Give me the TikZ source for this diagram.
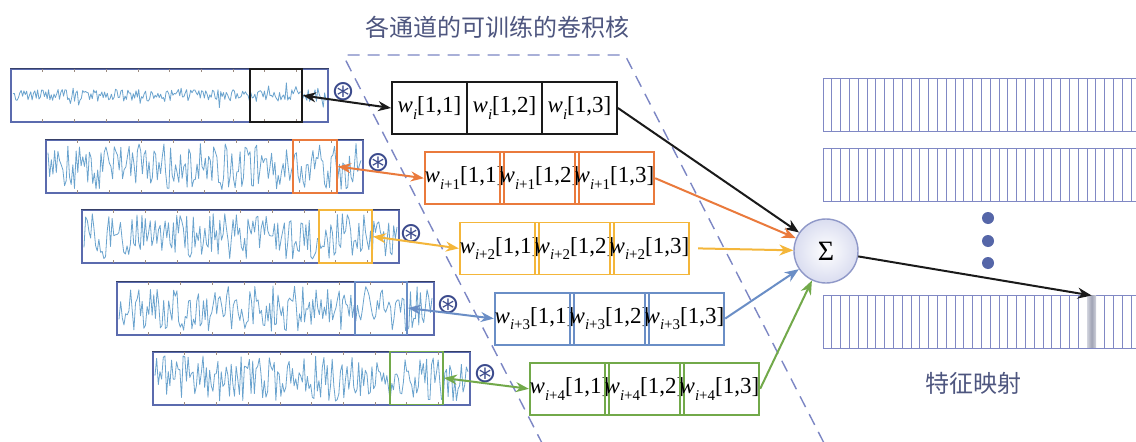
\documentclass[tikz,border=0pt]{standalone}
\usepackage{fontspec}
\setmainfont{Liberation Serif}
\newfontfamily\cjk{Noto Sans CJK SC}
\newfontfamily\symf{DejaVu Sans}
\usetikzlibrary{arrows.meta,shadings}
\definecolor{stripc}{HTML}{5B6BAE}
\definecolor{wavec}{HTML}{6AA3CE}
\definecolor{tickc}{HTML}{9A8A80}
\definecolor{convc}{HTML}{3B4A8C}
\definecolor{kblack}{HTML}{1A1A1A}
\definecolor{korange}{HTML}{EA7A3C}
\definecolor{kyellow}{HTML}{F4B63A}
\definecolor{kblue}{HTML}{6A8EC6}
\definecolor{kgreen}{HTML}{72A94A}
\definecolor{dashc}{HTML}{7C86C4}
\definecolor{fmc}{HTML}{8088C4}
\definecolor{txtc}{HTML}{4E567F}
\definecolor{dotc}{HTML}{5566A8}
\definecolor{sigc}{HTML}{8F98C8}
\definecolor{sigfill}{HTML}{DADDF0}
\definecolor{hlside}{HTML}{D0D2DC}
\definecolor{hlmid}{HTML}{A0A3B4}
\newcommand\kw[2]{\textit{w}\raisebox{-0.28em}{\fontsize{15}{15}\selectfont #1}[#2]}
\tikzset{
  wave/.style={draw=wavec, line width=0.8pt, line join=round},
  strip/.style={draw=stripc, line width=1.4pt, fill=white, minimum height=53pt, minimum width=317pt, inner sep=0pt},
  win/.style={draw=#1, line width=1.8pt, minimum height=53pt, inner sep=0pt},
  kcell/.style={draw=#1, line width=1.8pt, minimum width=75pt, minimum height=52pt, inner sep=0pt, font=\fontsize{23}{23}\selectfont},
  conv/.style={font=\symf\fontsize{28}{28}\selectfont, text=convc, inner sep=0pt},
  arr/.style={line width=2pt, draw=#1, -{Stealth[length=14pt,width=11pt]}},
  darr/.style={line width=2pt, draw=#1, {Stealth[length=13pt,width=10pt]}-{Stealth[length=13pt,width=10pt]}},
  fmline/.style={draw=fmc, line width=1pt},
  tick/.style={draw=tickc, line width=0.6pt},
  dashline/.style={draw=dashc, line width=1.4pt, dash pattern=on 12pt off 8pt, rounded corners=4pt},
  lbl/.style={text=txtc, font=\cjk\fontsize{24}{24}\selectfont, inner sep=0pt},
}
\begin{document}
\begin{tikzpicture}[x=1pt,y=-1pt]
\useasboundingbox (0,0) rectangle (1136,442);
\fill[white] (0,0) rectangle (1136,442);

% dashed parallelogram
\draw[dashline] (543,445) -- (343,55) -- (625,55) -- (825,445);

% title
\node[lbl] (title) at (497,27) {各通道的可训练的卷积核};

% signal strips
\pgfmathsetseed{11}
\foreach \n/\l/\t in {1/11/69, 2/46/140, 3/82/210, 4/117/282, 5/153/352} {
  \node[strip] (s\n) at ({\l+158.5},{\t+26.5}) {};
  \foreach \k in {1,...,9} {
    \draw[tick] ({\l+31.7*\k},\t) -- ++(0,3);
    \draw[tick] ({\l+31.7*\k},{\t+53}) -- ++(0,-3);
  }
}
\draw[wave, shift={(11,95.5)}] plot[samples=230, domain=2:315] (\x, {6*rand + 11*rand*(rand>0.72)});
\foreach \l/\t in {46/140, 82/210, 117/282, 153/352} {
  \draw[wave, shift={(\l,{\t+26.5})}] plot[samples=190, domain=2:315] (\x, {23*rand});
}
\foreach \n in {1,...,5} {\draw[stripc!60!black, line width=1.4pt] (s\n.north west) -- (s\n.north east);}

% windows
\node[win=kblack, minimum width=52pt] (b1) at (276,95.5) {};
\node[win=korange, minimum width=44pt] (b2) at (315,166.5) {};
\node[win=kyellow, minimum width=53pt] (b3) at (345.5,236.5) {};
\node[win=kblue, minimum width=52pt] (b4) at (381,308) {};
\node[win=kgreen, minimum width=53pt] (b5) at (416.5,378) {};

% convolution symbols
\node[conv] (c1) at (343,92) {⊛};
\node[conv] (c2) at (378,163) {⊛};
\node[conv] (c3) at (411,234) {⊛};
\node[conv] (c4) at (448,305) {⊛};
\node[conv] (c5) at (485,374) {⊛};

% kernels
\foreach \j/\c/\s in {0/kblack/{\textit{i}}, 1/korange/{\textit{i}+1}, 2/kyellow/{\textit{i}+2}, 3/kblue/{\textit{i}+3}, 4/kgreen/{\textit{i}+4}} {
  \node[kcell=\c] (k\j a) at ({429.5+35*\j},{108+70.2*\j}) {\kw{\s}{1,1}};
  \node[kcell=\c] (k\j b) at ({504.5+35*\j},{108+70.2*\j}) {\kw{\s}{1,2}};
  \node[kcell=\c] (k\j c) at ({579.5+35*\j},{108+70.2*\j}) {\kw{\s}{1,3}};
}

% sigma
\node[circle, draw=sigc, line width=1.4pt, minimum size=64pt, inner color=white, outer color=sigfill, inner sep=0pt] (sig) at (826,251) {\fontsize{28}{28}\selectfont Σ};

% feature maps
\foreach \t in {78,148,295} {
  \draw[fmline] (823,\t) rectangle (1145,{\t+53});
  \foreach \k in {1,...,36} {\draw[fmline] ({823+8.8*\k},\t) -- ({823+8.8*\k},{\t+53});}
}
\node[minimum width=8.8pt, minimum height=52pt, inner sep=0pt, anchor=north west, left color=hlside, right color=hlside, middle color=hlmid] (hl) at (1087,295.5) {};
\fill[dotc] (988,218) circle (6pt) (988,241) circle (6pt) (988,263) circle (6pt);
\node[lbl] (fmlabel) at (973,383) {特征映射};

% arrows strips <-> kernels
\draw[darr=kblack] (b1.east) -- (k0a.west);
\draw[darr=korange] (b2.east) -- (k1a.west);
\draw[darr=kyellow] (b3.east) -- (k2a.west);
\draw[darr=kblue] (b4.east) -- (k3a.west);
\draw[darr=kgreen] (b5.east) -- (k4a.west);

% arrows kernels -> sigma
\draw[arr=kblack] (k0c.east) -- (sig);
\draw[arr=korange] (k1c.east) -- (sig);
\draw[arr=kyellow] ([xshift=8pt]k2c.east) -- (sig);
\draw[arr=kblue] (k3c.east) -- (sig);
\draw[arr=kgreen] (k4c.east) -- (sig);

% sigma -> feature map
\draw[arr=kblack] (sig) -- (hl.north);
\end{tikzpicture}
\end{document}
